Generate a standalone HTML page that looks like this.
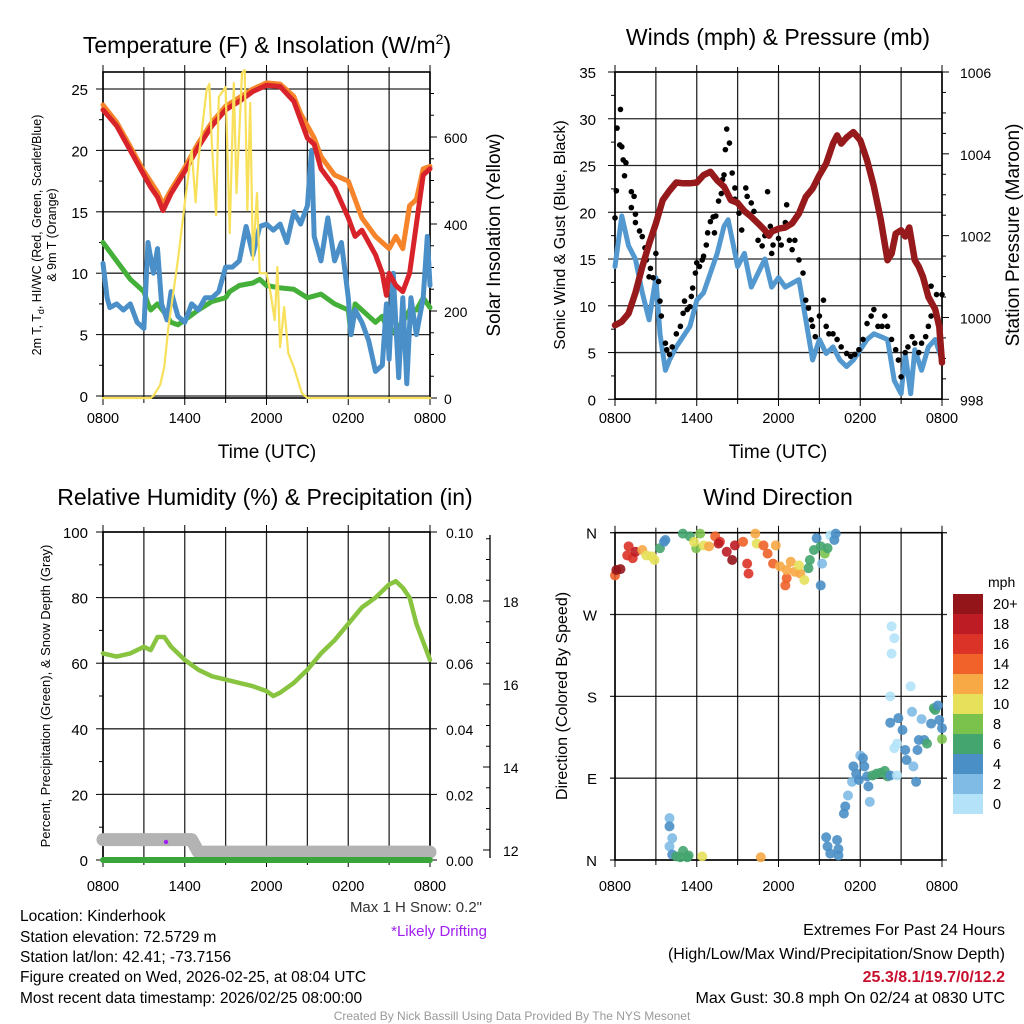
<!DOCTYPE html>
<html><head><meta charset="utf-8"><style>
html,body{margin:0;padding:0;background:#fff;}
svg{display:block;font-family:"Liberation Sans",sans-serif;}
</style></head><body>
<svg id="c" width="1024" height="1024" viewBox="0 0 1024 1024">
<g id="static">
<text x="267" y="53" font-size="23" text-anchor="middle">Temperature (F) &amp; Insolation (W/m<tspan dy="-9" font-size="14">2</tspan><tspan dy="9">)</tspan></text>
<text x="778" y="45" font-size="23" text-anchor="middle">Winds (mph) &amp; Pressure (mb)</text>
<text x="265" y="505" font-size="23" text-anchor="middle">Relative Humidity (%) &amp; Precipitation (in)</text>
<text x="778" y="505" font-size="23" text-anchor="middle">Wind Direction</text>
<text x="267" y="458" font-size="19" text-anchor="middle">Time (UTC)</text>
<text x="778" y="458" font-size="19" text-anchor="middle">Time (UTC)</text>
<text transform="translate(41,235) rotate(-90)" font-size="12.5" text-anchor="middle">2m T, T<tspan dy="3" font-size="9">d</tspan><tspan dy="-3">, HI/WC (Red, Green, Scarlet/Blue)</tspan></text>
<text transform="translate(56,235) rotate(-90)" font-size="12.5" text-anchor="middle">&amp; 9m T (Orange)</text>
<text transform="translate(500,235) rotate(-90)" font-size="19" text-anchor="middle">Solar Insolation (Yellow)</text>
<text transform="translate(565,235) rotate(-90)" font-size="16" text-anchor="middle">Sonic Wind &amp; Gust (Blue, Black)</text>
<text transform="translate(1019,235) rotate(-90)" font-size="19" text-anchor="middle">Station Pressure (Maroon)</text>
<text transform="translate(50,696) rotate(-90)" font-size="13" text-anchor="middle">Percent, Precipitation (Green), &amp; Snow Depth (Gray)</text>
<text transform="translate(567,696) rotate(-90)" font-size="16" text-anchor="middle">Direction (Colored By Speed)</text>
<text x="482" y="912" font-size="15" text-anchor="end" fill="#333">Max 1 H Snow: 0.2"</text>
<text x="487" y="936" font-size="15" text-anchor="end" fill="#a020f0">*Likely Drifting</text>
<g font-size="15.5">
<text x="20" y="921">Location: Kinderhook</text>
<text x="20" y="942">Station elevation: 72.5729 m</text>
<text x="20" y="962">Station lat/lon: 42.41; -73.7156</text>
<text x="20" y="982">Figure created on Wed, 2026-02-25, at 08:04 UTC</text>
<text x="20" y="1003">Most recent data timestamp: 2026/02/25 08:00:00</text>
</g>
<g font-size="16" text-anchor="end">
<text x="1005" y="935">Extremes For Past 24 Hours</text>
<text x="1005" y="959">(High/Low/Max Wind/Precipitation/Snow Depth)</text>
<text x="1005" y="982" fill="#c8102e" font-weight="bold">25.3/8.1/19.7/0/12.2</text>
<text x="1005" y="1003">Max Gust: 30.8 mph On 02/24 at 0830 UTC</text>
</g>
<text x="512" y="1020" font-size="12" text-anchor="middle" fill="#999">Created By Nick Bassill Using Data Provided By The NYS Mesonet</text>
<text x="988" y="587" font-size="14">mph</text>
</g>
<g id="dyn"></g>
</svg>
<script>
// ---- Panel 1 data (hours since 0800 UTC) ----
const redH=[0,1,2,3,3.5,4,4.4,5,6,7,8,9,10,11,12,13,14,14.5,15,15.5,16,17,18,18.5,19,20,20.5,20.8,21,21.5,22,22.5,23,23.5,24];
const redV=[23.3,22,20,18,17,16.2,15.1,16.5,18.3,20.3,22,23.3,24,24.8,25.3,25.2,24,22.5,21,20.5,18.5,17,14.5,13,13.5,11.5,10,8.2,10,9,8.5,10,14,18,18.5];
const orH=[0,1,2,3,4,4.4,5,6,7,8,9,10,11,12,13,14,14.5,15,15.5,16,17,18,18.5,19,20,20.5,21,21.5,22,22.5,23,23.5,24];
const orV=[23.7,22.3,20.3,18.3,16.6,15.6,16.8,18.6,20.6,22.3,23.6,24.3,25,25.5,25.4,24.4,23,22,21,19.5,18,17.5,16,14.5,13,12.5,12,13,12,15.5,16,18.5,18.7];
const bluH=[0,0.3,0.5,1,1.5,2,2.5,3,3.3,3.7,4,4.3,4.7,5,5.5,6,6.5,7,7.5,8,8.5,9,9.5,10,10.5,11,11.5,12,12.5,13,13.5,14,14.5,15,15.3,15.5,16,16.5,17,17.5,18,18.2,18.5,19,19.5,20,20.5,20.8,21,21.3,21.7,22,22.3,22.6,23,23.5,23.8,24];
const bluV=[10.8,8,7.2,7.5,7,7.5,6,5.5,12.5,10,12,7.5,6.2,8.5,6.5,6,7.5,7,8,8,8.5,10.5,10.5,11,13.8,11.5,13.8,14,13.5,14,12.5,15,14,15.5,20,13,11,14.5,11,12.5,8,5,7,6,4.5,2,2.5,7.5,3,10,1.5,8,1,8,5,8,13,9];
const grnH=[0,1,2,3,3.3,3.5,4,4.5,5,5.5,6,7,8,9,9.3,10,11,11.5,12,13,14,15,16,17,18,18.2,18.5,19,20,20.5,21,22,22.5,23,23.5,24];
const grnV=[12.5,11,9.5,8.5,7.5,7,7.5,6.8,6,5.8,6.2,7,7.7,8,8.5,9,9.2,9.5,9,8.8,8.7,8,8.3,7.5,7,5,7.5,7,6,6.5,5,6,7,7,8,7.2];
const solH=[0,3.5,3.7,4.2,4.5,4.8,5.5,6,6.5,6.8,7,7.6,7.8,8,8.3,8.5,9,9.3,9.6,9.8,10.2,10.4,10.6,10.8,11,11.3,11.5,12,12.3,12.6,12.8,13,13.3,13.6,14,14.3,14.6,15,24];
const solV=[0,0,5,30,72,163,317,448,570,450,547,708,722,577,420,692,715,379,724,471,747,754,432,678,317,471,287,287,241,179,301,117,209,103,71,41,11,0,0];
const p1LeftTicks=[0,5,10,15,20,25];
const p1RightTicks=[0,200,400,600];
const timeTicks=["0800","1400","2000","0200","0800"];
// ---- Panel 2 data ----
const windH=[0,0.5,1,1.5,2,2.5,3,3.3,3.7,4,4.5,5,5.5,6,6.5,7,7.5,8,8.3,8.7,9,9.5,10,10.5,11,11.5,12,12.5,13,13.5,14,14.5,15,15.5,16,16.5,17,17.5,18,18.5,19,19.5,20,20.5,21,21.3,21.7,22,22.5,23,23.5,24];
const windV=[14.2,19.6,16.4,15,11.4,8.5,13,7,3.1,4.2,5.6,6.7,7.8,10.6,11.4,13.5,15.6,18.5,19.2,16.4,14.2,15.6,12,13.5,15,12,13,12,12.4,12.8,8.5,4.2,6.4,4.9,5.6,4.2,3.5,4.2,5.3,6.4,7,6.7,6.4,2,0.6,4.9,0.6,5.3,3.1,5.6,6.4,4.2];
const gustH=[0,0.1,0.15,0.4,0.35,0.5,0.6,0.8,0.7,1.2,1.4,1.2,1.5,1.5,1.8,2,2.2,2.3,2.6,2.5,2.8,3.2,3,3,3.3,3.4,3.7,3.8,4,4.2,4.5,4.8,5,5.1,5.3,5.5,5.6,5.7,5.9,6,6.2,6.4,6.5,6.7,6.8,7,7.2,7.3,7.4,7.6,7.8,7.9,8,8.1,8.2,8.4,8.6,8.8,8.8,9.1,9.3,9.6,9.7,10,10.2,10.5,10.8,11,11.2,11.4,11.5,11.6,12,12.2,12.5,12.6,12.8,13,13.2,13.5,13.8,14,14.2,14.4,14.5,14.7,15,15.3,15.5,15.7,16,16.3,16.6,17,17.3,17.6,17.9,18.2,18.5,18.8,19,19.3,19.6,19.8,20,20.3,20.6,20.8,21,21.3,21.5,21.8,22,22.3,22.5,22.8,23,23.2,23.2,23.6,24];
const gustV=[19.4,22.3,29,31,27.2,27,25.6,25.3,23.9,22.2,21.7,20.5,19.8,18.9,18,17.4,16.2,14.9,14,13.1,13,12.6,15.6,18.7,10.5,8.9,6,5.3,4.8,5.6,7,7.8,9.2,10.5,9.6,9.9,11,11.9,13.5,14.6,14.2,14.9,15.3,16.5,17.8,19,19.5,17.8,19.6,21.2,22,23.5,24,26.7,28.9,27.4,24.2,22.6,21.4,19.9,18.1,22.6,21.7,21,20.1,17,16.4,17.5,22.2,18.5,15.6,16.5,17.2,16.5,18.9,20.8,17,16,17,14.9,13.5,10.6,9.75,8.5,7.8,6.7,8.9,10.6,7.8,7,7,6.4,5.6,4.9,4.6,4.8,5.3,6.4,8.1,8.9,9.6,7.8,7.8,8.9,7.8,6.4,5.3,4.2,2.4,5,5.6,6.7,6,5,6,6.7,7.8,8.9,12.1,11.2,11.2];
const presH=[0,0.5,1,1.5,2,2.5,3,3.5,4,4.5,5,5.5,6,6.5,7,7.5,8,8.5,9,9.5,10,10.5,11,11.3,11.5,12,12.5,13,13.5,14,14.5,15,15.5,16,16.3,16.6,17,17.5,18,18.5,19,19.5,20,20.3,20.6,21,21.3,21.6,22,22.3,22.6,23,23.5,23.8,24];
const presV=[999.81,999.9,1000.1,1000.6,1001.24,1001.8,1002.3,1002.87,1003.1,1003.3,1003.28,1003.28,1003.3,1003.48,1003.56,1003.35,1003.2,1002.87,1002.8,1002.6,1002.46,1002.3,1002.13,1002.0,1002.1,1002.17,1002.2,1002.3,1002.54,1002.95,1003.15,1003.48,1003.76,1004.25,1004.45,1004.25,1004.4,1004.53,1004.33,1003.84,1003.2,1002.4,1001.4,1001.56,1002.05,1002.13,1001.98,1002.2,1001.4,1001.24,1001.0,1000.5,1000.2,999.77,998.9];
const p2LeftTicks=[0,5,10,15,20,25,30,35];
const p2RightTicks=[998,1000,1002,1004,1006];
// ---- Panel 3 data ----
const rhH=[0,1,2,3,3.5,4,4.5,5,6,7,8,9,10,11,12,12.5,13,14,15,16,17,18,19,20,21,21.5,22,22.5,23,24];
const rhV=[63,62,63,65,64,68,68,65,61,58,56,55,54,53,51.5,50,51,54,58,63,67,72,77,80,84,85,83,80,72,61];
const precH=[0,24];
const precV=[0,0];
const snowH=[0,6.5,7,24];
const snowV=[12.25,12.25,11.95,11.95];
const p3LeftTicks=[0,20,40,60,80,100];
const p3RightTicks=["0.00","0.02","0.04","0.06","0.08","0.10"];
const snowTicks=[12,14,16,18];
// ---- Panel 4 data ----
const wdH=[0,0.1,0.4,0.9,1,1.3,1.5,2,2.3,2.7,2.9,3.3,3.6,3.7,4.98,5.5,5.96,5.8,6.25,6.5,6.9,7.35,7.7,7.6,8.2,8.6,8.8,9.4,9.7,9.8,10.3,10.4,10.9,11.2,11.6,11.8,12.1,12.5,12.6,12.9,13.2,13.6,13.9,13.5,12.6,14.2,14.3,14.6,14.8,15.1,15.2,15.1,15.4,15.6,15.8,16.1,16.2,
4,4,4.2,4,4.2,4.5,4.8,5,5.3,5.4,6.4,10.7,15.5,15.6,15.8,16.3,16.4,16.4,
16.8,16.9,17.1,17.4,17.5,17.7,17.9,18,18.2,18.3,18.5,18.6,18.7,18.9,19.2,19.5,19.8,20,20.2,
20.3,20.5,20.3,20.2,20.2,20.5,20.7,20.8,21.1,21.3,21.4,21.7,21.8,21.9,22.1,22.2,22.3,22.5,22.7,22.9,23.2,23.4,23.5,23.7,23.8,24,24,20.7];
const wdDir=[313,319,320,335,345,332,339,341,335,334,330,343,350,352,359,356,343,350,359,346,345,356,350,348,339,330,346,350,326,315,359,348,346,337,326,346,323,302,310,328,317,315,308,324,319,321,330,341,354,345,326,302,337,343,357,352,359,
46,37,24,15,6,4,3,10,3,5,4,3,25,15,7,22,12,5,
51,59,71,86,103,95,88,115,112,103,92,81,64,93,95,96,98,92,93,
257,244,227,180,151,123,128,156,143,121,110,191,163,103,86,121,132,155,132,128,150,167,165,170,154,145,133,93];
const wdSpd=[14,20,20,16,16,16,18,12,10,10,10,6,4,4,6,6,8,10,8,10,12,14,16,18,18,20,18,14,16,16,12,10,14,14,14,12,12,14,14,12,12,12,10,10,12,6,6,6,4,6,2,4,8,6,0,4,4,
2,4,2,2,4,6,6,6,6,6,10,12,4,4,4,4,4,4,
4,4,2,2,4,4,4,2,4,4,4,4,2,6,6,6,6,6,4,
0,0,0,0,4,0,0,4,4,4,4,0,2,2,4,4,4,2,4,6,4,6,6,4,4,4,8,0];
const spdLevels=["0","2","4","6","8","10","12","14","16","18","20+"];
const spdColors=["#b4e3f9","#7fbbe4","#4a8fc6","#45a56f","#7bc24c","#e6e05a","#f7a945","#f06229","#dc3328","#bd1c24","#941519"];
const dirTicks=["N","E","S","W","N"];

const NS="http://www.w3.org/2000/svg";
const root=document.getElementById("dyn");
function mk(tag,attrs,parent){const e=document.createElementNS(NS,tag);for(const k in attrs)e.setAttribute(k,attrs[k]);(parent||root).appendChild(e);return e;}
function lin(d0,d1,r0,r1){return v=>r0+(v-d0)*(r1-r0)/(d1-d0);}

function frame(x0,x1,y0,y1,name){
  const g=mk("g",{});
  
  
  for(let h=0;h<=24;h+=3){const x=lin(0,24,x0,x1)(h);
    mk("line",{x1:x,x2:x,y1:y0,y2:y1,stroke:"#000","stroke-width":1.3,"stroke-opacity":0.85},g);
    const big=(h%6===0);
    mk("line",{x1:x,x2:x,y1:y1,y2:y1+(big?7:5),stroke:"#000","stroke-width":1},g);
    mk("line",{x1:x,x2:x,y1:y0,y2:y0-(big?7:5),stroke:"#000","stroke-width":1},g);}
  mk("rect",{x:x0,y:y0,width:x1-x0,height:y1-y0,fill:"none",stroke:"#000","stroke-width":1.6},g);
  return g;
}
function hgrid(g,x0,x1,y,tickL){
  mk("line",{x1:x0,x2:x1,y1:y,y2:y,stroke:"#000","stroke-width":1.3,"stroke-opacity":0.85},g);
  if(tickL) mk("line",{x1:x0-7,x2:x0,y1:y,y2:y,stroke:"#000"},g);
}
function xlabels(g,x0,x1,y){
  timeTicks.forEach((t,i)=>{const tx=mk("text",{x:lin(0,4,x0,x1)(i),y:y,"font-size":14.5,"text-anchor":"middle"},g);tx.textContent=t;});
}
function poly(g,hs,vs,fx,fy,color,w,name){
  const pts=hs.map((h,i)=>fx(h).toFixed(1)+","+fy(vs[i]).toFixed(1)).join(" ");
  const p=mk("polyline",{points:pts,fill:"none",stroke:color,"stroke-width":w,"stroke-linejoin":"round","stroke-linecap":"round"},g);
  
  
  return p;
}

// ===== Panel 1 =====
(function(){
  const x0=103,x1=430,y0=72,y1=398;
  const fx=lin(0,24,x0,x1), fy=lin(0,25,396,89), fs=lin(0,200,398,311);
  const g=frame(x0,x1,y0,y1,"temp-panel");
  p1LeftTicks.forEach(v=>{hgrid(g,x0,x1,fy(v),true);const t=mk("text",{x:88,y:fy(v)+6,"font-size":15,"text-anchor":"end"},g);t.textContent=v;});
  for(let v=2.5;v<26;v+=5){mk("line",{x1:x0-4,x2:x0,y1:fy(v),y2:fy(v),stroke:"#000"},g);}
  for(let v=0;v<=700;v+=50){const y=fs(v);mk("line",{x1:x1,x2:x1+(v%200===0?7:4),y1:y,y2:y,stroke:"#000"},g);}
  p1RightTicks.forEach(v=>{const t=mk("text",{x:444,y:fs(v)+6,"font-size":14},g);t.textContent=v;});
  xlabels(g,x0,x1,423);
  poly(g,grnH,grnV,fx,fy,"#44b03a",5,"dewpoint-line");
  poly(g,bluH,bluV,fx,fy,"#4a8fc8",5,"windchill-line");
  poly(g,orH,orV,fx,fy,"#f5842a",5,"temp-9m-line");
  poly(g,redH,redV,fx,fy,"#d8232a",5,"temp-2m-line");
  poly(g,solH,solV,fx,fs,"#f8e05a",2.2,"insolation-line");
})();

// ===== Panel 2 =====
(function(){
  const x0=615,x1=942,y0=72,y1=399;
  const fx=lin(0,24,x0,x1), fy=lin(0,35,399.3,72), fp=lin(998,1006,399.3,72);
  const g=frame(x0,x1,y0,y1,"wind-panel");
  p2LeftTicks.forEach(v=>{hgrid(g,x0,x1,fy(v),true);const t=mk("text",{x:596,y:fy(v)+6,"font-size":15,"text-anchor":"end"},g);t.textContent=v;});
  for(let v=2.5;v<35;v+=5){mk("line",{x1:x0-4,x2:x0,y1:fy(v),y2:fy(v),stroke:"#000"},g);}
  for(let p=998;p<=1006;p+=0.5){const y=fp(p);mk("line",{x1:x1,x2:x1+(p%2===0?7:4),y1:y,y2:y,stroke:"#000"},g);}
  p2RightTicks.forEach(v=>{const t=mk("text",{x:960,y:fp(v)+6,"font-size":14},g);t.textContent=v;});
  xlabels(g,x0,x1,423);
  poly(g,windH,windV,fx,fy,"#5399d0",5,"sonic-wind-line");
  gustH.forEach((h,i)=>{
    const c=mk("circle",{cx:fx(h),cy:fy(gustV[i]),r:2.8,fill:"#000"},g);
    
    
  });
  poly(g,presH,presV,fx,fp,"#961a1c",6.5,"pressure-line");
})();

// ===== Panel 3 =====
(function(){
  const x0=103,x1=430,y0=532,y1=860;
  const fx=lin(0,24,x0,x1), fy=lin(0,100,860,532), fsn=lin(12,18,850,601);
  const g=frame(x0,x1,y0,y1,"rh-panel");
  p3LeftTicks.forEach(v=>{hgrid(g,x0,x1,fy(v),true);const t=mk("text",{x:88,y:fy(v)+6,"font-size":15,"text-anchor":"end"},g);t.textContent=v;});
  for(let v=10;v<100;v+=20){mk("line",{x1:x0-4,x2:x0,y1:fy(v),y2:fy(v),stroke:"#000"},g);}
  p3RightTicks.forEach((v,i)=>{const y=fy(i*20);mk("line",{x1:x1,x2:x1+7,y1:y,y2:y,stroke:"#000"},g);const t=mk("text",{x:446,y:y+6,"font-size":14},g);t.textContent=v;});
  mk("line",{x1:490,x2:490,y1:535,y2:858,stroke:"#000","stroke-width":1.3},g);
  for(let s=12;s<=19.5;s+=0.5){const y=fsn(s);mk("line",{x1:490-(s%2===0?7:4),x2:490,y1:y,y2:y,stroke:"#000"},g);}
  snowTicks.forEach(v=>{const t=mk("text",{x:503,y:fsn(v)+6,"font-size":14},g);t.textContent=v;});
  xlabels(g,x0,x1,891);
  poly(g,snowH,snowV,fx,fsn,"#b3b3b3",13,"snow-depth-line");
  poly(g,precH,precV,fx,fy,"#3aa53a",6,"precip-line");
  poly(g,rhH,rhV,fx,fy,"#88c440",4.5,"rh-line");
  const d=mk("circle",{cx:166,cy:842,r:2.2,fill:"#a020f0"},g);
  
  
})();

// ===== Panel 4 =====
(function(){
  const x0=615,x1=942,y0=532.7,y1=860;
  const fx=lin(0,24,x0,x1), fy=lin(0,360,860,532.7);
  const g=frame(x0,x1,y0,y1,"wdir-panel");
  dirTicks.forEach((t,i)=>{const y=fy(i*90);hgrid(g,x0-5,x1+5,y,false);const tx=mk("text",{x:597,y:y+6,"font-size":15,"text-anchor":"end"},g);tx.textContent=t;});
  xlabels(g,x0,x1,891);
  wdH.forEach((h,i)=>{
    const s=wdSpd[i];const bin=Math.min(10,Math.floor(s/2));
    const c=mk("circle",{cx:fx(h),cy:fy(wdDir[i]),r:5,fill:spdColors[bin],"fill-opacity":0.9},g);
    
    
  });
  const cb=mk("g",{});
  
  
  spdColors.forEach((col,i)=>{
    const y=594+(10-i)*20;
    mk("rect",{x:953,y:y,width:30,height:20,fill:col},cb);
    const t=mk("text",{x:993,y:y+15,"font-size":14.5},cb);t.textContent=spdLevels[i];
  });
})();
</script>
</body></html>
